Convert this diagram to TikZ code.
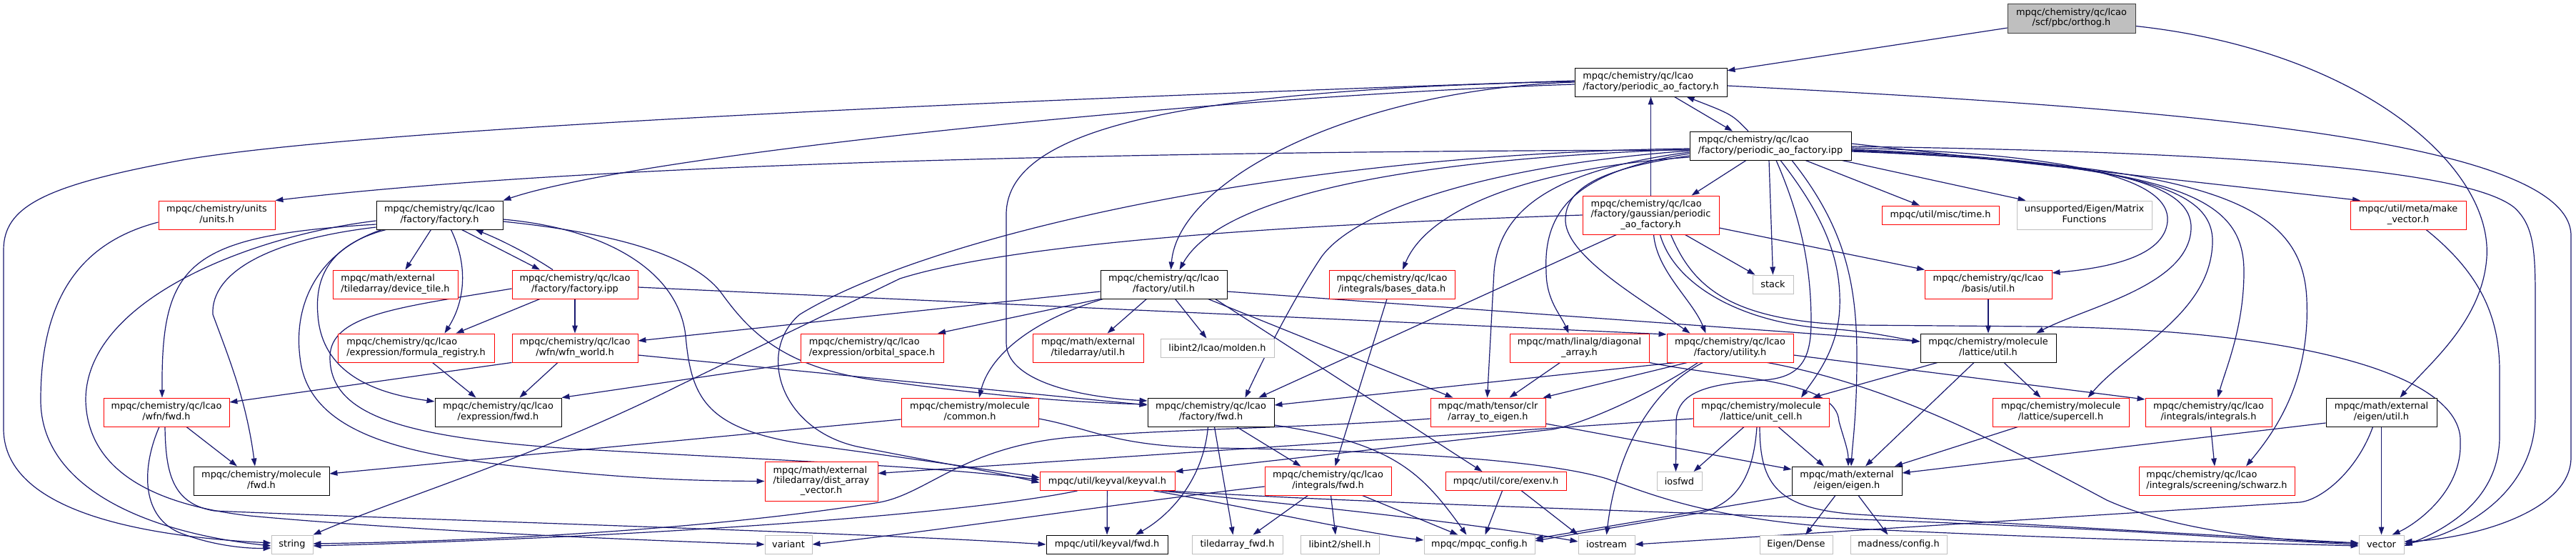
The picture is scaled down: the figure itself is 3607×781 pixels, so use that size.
\documentclass[tikz,border=0pt]{standalone}
\usepackage{fontspec}
\newfontfamily\dvs{DejaVu Sans}
\usetikzlibrary{arrows.meta}
\definecolor{edgeblue}{HTML}{191970}
\definecolor{grey75}{HTML}{BFBFBF}
\definecolor{grey25}{HTML}{404040}
\pgfdeclarelayer{background}
\pgfsetlayers{background,main}
\newcommand\twol[2]{\begin{tabular}{@{}l@{}}#1\\\multicolumn{1}{@{}c@{}}{#2}\end{tabular}}
\newcommand\threel[3]{\begin{tabular}{@{}l@{}}#1\\#2\\\multicolumn{1}{@{}c@{}}{#3}\end{tabular}}
\tikzset{
  nd/.style={draw, fill=white, line width=0.9pt, inner sep=0pt, text=black,
             font=\dvs\fontsize{12.9}{14.3}\selectfont},
  rn/.style={nd, draw=red},
  bn/.style={nd, draw=black},
  gn/.style={nd, draw=grey75},
  boxsz/.style 2 args={minimum width=#1pt, minimum height=#2pt},
  edg/.style={draw=edgeblue, line width=1.2pt, -{Triangle[length=11pt,width=7.5pt]}},
}
\begin{document}
\begin{tikzpicture}[x=1pt,y=-1pt]
\useasboundingbox (0,0) rectangle (3607,781);
% ---------- nodes ----------
\node[nd,fill=grey75,draw=grey25,boxsz={179}{41}] (orthog) at (2900.5,25.5) {\twol{mpqc/chemistry/qc/lcao}{/scf/pbc/orthog.h}};
\node[bn,boxsz={213}{40}] (pao_h) at (2311.5,115) {\twol{mpqc/chemistry/qc/lcao}{/factory/periodic\_ao\_factory.h}};
\node[bn,boxsz={226}{40}] (ipp) at (2479,204) {\twol{mpqc/chemistry/qc/lcao}{/factory/periodic\_ao\_factory.ipp}};
\node[rn,boxsz={163}{40}] (units) at (303.5,301) {\twol{mpqc/chemistry/units}{/units.h}};
\node[bn,boxsz={177}{40}] (factory_h) at (615.5,301) {\twol{mpqc/chemistry/qc/lcao}{/factory/factory.h}};
\node[rn,boxsz={191}{54}] (gauss) at (2311.5,301) {\threel{mpqc/chemistry/qc/lcao}{/factory/gaussian/periodic}{\_ao\_factory.h}};
\node[rn,boxsz={164}{26}] (time) at (2717,301) {mpqc/util/misc/time.h};
\node[gn,boxsz={189}{40}] (matfun) at (2918.5,301) {\twol{unsupported/Eigen/Matrix}{Functions}};
\node[rn,boxsz={162}{40}] (make_vector) at (3372,301) {\twol{mpqc/util/meta/make}{\_vector.h}};
\node[rn,boxsz={175}{40}] (device_tile) at (553.5,398) {\twol{mpqc/math/external}{/tiledarray/device\_tile.h}};
\node[rn,boxsz={176}{40}] (factory_ipp) at (805,398) {\twol{mpqc/chemistry/qc/lcao}{/factory/factory.ipp}};
\node[bn,boxsz={177}{40}] (factory_util) at (1629.5,398) {\twol{mpqc/chemistry/qc/lcao}{/factory/util.h}};
\node[rn,boxsz={176}{40}] (bases_data) at (1949,398) {\twol{mpqc/chemistry/qc/lcao}{/integrals/bases\_data.h}};
\node[gn,boxsz={57}{26}] (stack) at (2482.5,398) {stack};
\node[rn,boxsz={178}{40}] (basis_util) at (2784,398) {\twol{mpqc/chemistry/qc/lcao}{/basis/util.h}};
\node[rn,boxsz={219}{40}] (formula_reg) at (582.5,487) {\twol{mpqc/chemistry/qc/lcao}{/expression/formula\_registry.h}};
\node[rn,boxsz={176}{40}] (wfn_world) at (805,487) {\twol{mpqc/chemistry/qc/lcao}{/wfn/wfn\_world.h}};
\node[rn,boxsz={200}{40}] (orbital_space) at (1221,487) {\twol{mpqc/chemistry/qc/lcao}{/expression/orbital\_space.h}};
\node[rn,boxsz={155}{40}] (ta_util) at (1523.5,487) {\twol{mpqc/math/external}{/tiledarray/util.h}};
\node[gn,boxsz={159}{26}] (molden) at (1704.5,487) {libint2/lcao/molden.h};
\node[rn,boxsz={195}{40}] (diagonal) at (2211.5,487) {\twol{mpqc/math/linalg/diagonal}{\_array.h}};
\node[rn,boxsz={177}{40}] (utility) at (2422.5,487) {\twol{mpqc/chemistry/qc/lcao}{/factory/utility.h}};
\node[bn,boxsz={190}{40}] (lattice_util) at (2784,487) {\twol{mpqc/chemistry/molecule}{/lattice/util.h}};
\node[rn,boxsz={176}{40}] (wfn_fwd) at (233,577) {\twol{mpqc/chemistry/qc/lcao}{/wfn/fwd.h}};
\node[bn,boxsz={177}{40}] (expr_fwd) at (697.5,577) {\twol{mpqc/chemistry/qc/lcao}{/expression/fwd.h}};
\node[rn,boxsz={192}{40}] (mol_common) at (1358,577) {\twol{mpqc/chemistry/molecule}{/common.h}};
\node[bn,boxsz={177}{40}] (factory_fwd) at (1695.5,577) {\twol{mpqc/chemistry/qc/lcao}{/factory/fwd.h}};
\node[rn,boxsz={161}{40}] (array_to_eigen) at (2083.5,577) {\twol{mpqc/math/tensor/clr}{/array\_to\_eigen.h}};
\node[rn,boxsz={190}{40}] (unit_cell) at (2466,577) {\twol{mpqc/chemistry/molecule}{/lattice/unit\_cell.h}};
\node[rn,boxsz={191}{40}] (supercell) at (2885.5,577) {\twol{mpqc/chemistry/molecule}{/lattice/supercell.h}};
\node[rn,boxsz={177}{40}] (integrals) at (3092.5,577) {\twol{mpqc/chemistry/qc/lcao}{/integrals/integrals.h}};
\node[bn,boxsz={155}{40}] (eigen_util) at (3334.5,577) {\twol{mpqc/math/external}{/eigen/util.h}};
\node[bn,boxsz={190}{40}] (mol_fwd) at (366,673) {\twol{mpqc/chemistry/molecule}{/fwd.h}};
\node[rn,boxsz={158}{55}] (dist_array) at (1150,673.5) {\threel{mpqc/math/external}{/tiledarray/dist\_array}{\_vector.h}};
\node[rn,boxsz={189}{26}] (keyval) at (1550.5,673.5) {mpqc/util/keyval/keyval.h};
\node[rn,boxsz={177}{40}] (integrals_fwd) at (1859.5,673) {\twol{mpqc/chemistry/qc/lcao}{/integrals/fwd.h}};
\node[rn,boxsz={169}{26}] (exenv) at (2108.5,673.5) {mpqc/util/core/exenv.h};
\node[gn,boxsz={63}{26}] (iosfwd) at (2351.5,673.5) {iosfwd};
\node[bn,boxsz={154}{40}] (eigen_h) at (2586,673) {\twol{mpqc/math/external}{/eigen/eigen.h}};
\node[rn,boxsz={218}{40}] (schwarz) at (3104,673) {\twol{mpqc/chemistry/qc/lcao}{/integrals/screening/schwarz.h}};
\node[gn,boxsz={58}{26}] (string) at (409,762) {string};
\node[gn,boxsz={66}{26}] (variant) at (1104,762) {variant};
\node[bn,boxsz={170}{26}] (keyval_fwd) at (1550,762) {mpqc/util/keyval/fwd.h};
\node[gn,boxsz={127}{26}] (ta_fwd) at (1732.5,762) {tiledarray\_fwd.h};
\node[gn,boxsz={110}{26}] (shell) at (1876,762) {libint2/shell.h};
\node[gn,boxsz={155}{26}] (mpqc_config) at (2071.5,762) {mpqc/mpqc\_config.h};
\node[gn,boxsz={79}{26}] (iostream) at (2249.5,762) {iostream};
\node[gn,boxsz={102}{26}] (dense) at (2515,762) {Eigen/Dense};
\node[gn,boxsz={135}{26}] (madness) at (2658.5,762) {madness/config.h};
\node[gn,boxsz={63}{26}] (vector) at (3334.5,762) {vector};
% ---------- edges ----------
\begin{pgfonlayer}{background}
\fill[white] (0,0) rectangle (3607,781);
% orthog
\draw[edg] (orthog) -- (pao_h);
\draw[edg] ([yshift=-11pt]orthog.east) .. controls (3300,70) and (3490,230) .. (3482,360) .. controls (3476,450) and (3400,510) .. ([xshift=26pt]eigen_util.north);
% periodic_ao_factory.h
\draw[edg] ([xshift=33pt]pao_h.south) -- ([xshift=-53pt]ipp.north);
\draw[edg] ([xshift=-31pt]ipp.north) .. controls (2425,160) .. ([xshift=50pt]pao_h.south);
\draw[edg] (gauss) -- (pao_h);
\draw[edg] ([yshift=-3pt]pao_h.west) .. controls (1700,135) and (900,215) .. (factory_h.north east);
\draw[edg] ([yshift=2pt]pao_h.west) .. controls (1400,140) and (500,180) .. (250,225) .. controls (60,260) and (5,290) .. (5,350) -- (5,600) .. controls (5,700) and (150,748) .. ([yshift=2pt]string.west);
\draw[edg] (pao_h.west) .. controls (1900,125) and (1650,250) .. ([xshift=10pt]factory_util.north);
\draw[edg] ([yshift=1pt]pao_h.west) .. controls (1700,125) and (1409,170) .. (1409,300) -- (1409,480) .. controls (1409,530) and (1500,555) .. ([yshift=16pt]factory_fwd.west);
\draw[edg] ([yshift=-5pt]pao_h.east) .. controls (3000,150) and (3600,190) .. (3600,330) -- (3600,640) .. controls (3600,720) and (3450,755) .. ([yshift=4pt]vector.east);
% periodic_ao_factory.ipp
\draw[edg] ([yshift=-6pt]ipp.west) .. controls (1500,212) and (800,232) .. (units.north east);
\draw[edg] ([yshift=-5pt]ipp.west) .. controls (1900,225) and (1700,290) .. ([xshift=22pt]factory_util.north);
\draw[edg] ([yshift=-4pt]ipp.west) .. controls (1800,215) and (1300,330) .. (1120,440) .. controls (1060,490) and (1090,600) .. (1200,625) .. controls (1300,645) and (1400,662) .. ([yshift=-2pt]keyval.west);
\draw[edg] ([yshift=-7pt]ipp.west) .. controls (2100,230) and (1900,290) .. (1850,360) .. controls (1810,420) and (1770,500) .. ([xshift=48pt]factory_fwd.north);
\draw[edg] ([yshift=-9pt]ipp.west) .. controls (2200,235) and (2100,280) .. (2092,380) -- ([xshift=-1pt]array_to_eigen.north);
\draw[edg] ([yshift=-11pt]ipp.west) .. controls (2220,238) and (2160,285) .. (2165,380) .. controls (2165,420) and (2185,440) .. ([xshift=-15pt]diagonal.north);
\draw[edg] ([yshift=-14pt]ipp.west) .. controls (2250,235) and (2190,260) .. (2192,310) .. controls (2195,360) and (2300,420) .. ([xshift=-56pt]utility.north);
\draw[edg] ([yshift=-16pt]ipp.west) .. controls (2150,235) and (2000,290) .. ([xshift=15pt]bases_data.north);
\draw[edg] ([xshift=-34pt]ipp.south) -- ([xshift=57pt]gauss.north);
\draw[edg] ([xshift=-2pt]ipp.south) -- (stack.north);
\draw[edg] ([xshift=49pt]ipp.south) -- ([xshift=-29pt]time.north);
\draw[edg] ([xshift=100pt]ipp.south) -- ([xshift=-82pt]matfun.north);
\draw[edg] ([yshift=3pt]ipp.east) -- ([xshift=-67pt]make_vector.north);
\draw[edg] ([yshift=-1pt]ipp.east) .. controls (3100,212) and (3450,235) .. (3520,290) .. controls (3548,315) and (3550,350) .. (3550,420) -- (3550,580) .. controls (3550,700) and (3430,752) .. ([yshift=1pt]vector.east);
\draw[edg] ([yshift=-3pt]ipp.east) .. controls (2900,215) and (3040,250) .. (3035,310) .. controls (3030,360) and (2950,375) .. ([yshift=16pt]basis_util.east);
\draw[edg] ([yshift=-5pt]ipp.east) .. controls (2950,225) and (3070,255) .. (3068,320) .. controls (3065,400) and (2920,430) .. ([xshift=67pt]lattice_util.north);
\draw[edg] ([yshift=-6pt]ipp.east) .. controls (3000,230) and (3100,265) .. (3098,340) .. controls (3095,440) and (2980,490) .. ([xshift=38pt]supercell.north);
\draw[edg] ([yshift=-7pt]ipp.east) .. controls (3050,232) and (3142,275) .. (3142,380) .. controls (3142,460) and (3115,520) .. ([xshift=13pt]integrals.north);
\draw[edg] ([yshift=-8pt]ipp.east) .. controls (3100,232) and (3225,285) .. (3230,420) .. controls (3235,540) and (3180,610) .. ([xshift=41pt]schwarz.north);
\draw[edg] ([xshift=8pt]ipp.south) .. controls (2520,300) and (2536,370) .. (2536,450) .. controls (2536,505) and (2520,528) .. (2470,532) .. controls (2400,537) and (2348,545) .. (2347,590) -- ([xshift=-5pt]iosfwd.north);
\draw[edg] ([xshift=14pt]ipp.south) .. controls (2560,310) and (2578,370) .. (2576,430) .. controls (2574,490) and (2540,530) .. ([xshift=56pt]unit_cell.north);
\draw[edg] ([xshift=30pt]ipp.south) .. controls (2585,320) and (2600,400) .. (2600,500) .. controls (2600,580) and (2594,620) .. ([xshift=6pt]eigen_h.north);
% gaussian/periodic_ao_factory.h
\draw[edg] ([xshift=-48pt]gauss.south) -- ([xshift=67pt]factory_fwd.north);
\draw[edg] ([xshift=4pt]gauss.south) .. controls (2320,380) and (2370,420) .. ([xshift=-34pt]utility.north);
\draw[edg] ([xshift=13pt]gauss.south) .. controls (2345,400) and (2440,452) .. (2560,460) .. controls (2620,464) and (2660,474) .. ([yshift=9pt]lattice_util.west);
\draw[edg] ([xshift=28pt]gauss.south) .. controls (2370,400) and (2420,450) .. (2600,455) -- (2850,457) .. controls (3200,460) and (3450,520) .. (3445,620) .. controls (3447,690) and (3380,735) .. ([xshift=15pt]vector.north);
\draw[edg] ([xshift=48pt]gauss.south) -- ([xshift=-25pt]stack.north);
\draw[edg] ([yshift=-18pt]gauss.east) -- ([xshift=-89pt]basis_util.north);
\draw[edg] (gauss.west) .. controls (1950,310) and (1450,330) .. (1260,390) -- (950,540) .. controls (750,640) and (550,700) .. (string.north east);
% factory/util.h
\draw[edg] ([yshift=-10pt]factory_util.west) -- ([yshift=10pt]wfn_world.east);
\draw[edg] (factory_util.south west) -- ([xshift=92pt]orbital_space.north);
\draw[edg] ([xshift=-24pt]factory_util.south) -- ([xshift=27pt]ta_util.north);
\draw[edg] ([xshift=16pt]factory_util.south) -- ([xshift=-15pt]molden.north);
\draw[edg] ([xshift=4pt]factory_util.south west) .. controls (1440,450) and (1385,500) .. ([xshift=13pt]mol_common.north);
\draw[edg] ([yshift=-10pt]factory_util.east) -- ([yshift=9pt]lattice_util.west);
\draw[edg] ([xshift=62pt]factory_util.south) -- ([xshift=-49pt]array_to_eigen.north);
\draw[edg] ([xshift=72pt]factory_util.south) -- ([xshift=-33pt]exenv.north);
% factory.h / factory.ipp
\draw[edg] ([xshift=31pt]factory_h.south) -- ([xshift=-49pt]factory_ipp.north);
\draw[edg] ([xshift=-31pt]factory_ipp.north) .. controls (740,355) and (700,335) .. ([xshift=50pt]factory_h.south);
\draw[edg] ([xshift=-49pt]factory_ipp.south) -- ([xshift=56pt]formula_reg.north);
\draw[edg] (factory_ipp) -- (wfn_world);
\draw[edg] ([yshift=-4pt]factory_ipp.east) -- ([yshift=19pt]utility.west);
\draw[edg] ([yshift=-6pt]factory_ipp.west) .. controls (560,430) and (462,440) .. (462,500) .. controls (462,580) and (560,612) .. (800,628) .. controls (1100,645) and (1300,652) .. ([yshift=2pt]keyval.west);
\draw[edg] ([xshift=-12pt]factory_h.south) -- ([xshift=14pt]device_tile.north);
\draw[edg] ([xshift=16pt]factory_h.south) .. controls (655,370) and (652,420) .. ([xshift=40pt]formula_reg.north);
\draw[edg] ([yshift=-13pt]factory_h.west) .. controls (260,330) and (226,370) .. ([xshift=-6pt]wfn_fwd.north);
\draw[edg] ([yshift=-17pt]factory_h.west) .. controls (380,335) and (295,380) .. (298,440) .. controls (320,500) and (345,560) .. ([xshift=-9pt]mol_fwd.north);
\draw[edg] ([yshift=-8pt]factory_h.west) .. controls (350,330) and (120,420) .. (120,560) .. controls (122,650) and (200,705) .. (350,722) .. controls (600,745) and (950,758) .. (variant.west);
\draw[edg] ([xshift=8pt]factory_h.south west) .. controls (450,350) and (410,420) .. (420,500) .. controls (430,600) and (550,632) .. (700,650) .. controls (850,668) and (950,673) .. (dist_array.west);
\draw[edg] ([xshift=14pt]factory_h.south west) .. controls (470,340) and (440,380) .. (445,440) .. controls (450,520) and (520,550) .. ([yshift=15pt]expr_fwd.west);
\draw[edg] ([yshift=-6pt]factory_h.east) .. controls (850,320) and (950,380) .. (960,470) .. controls (968,560) and (990,602) .. (1136,623) .. controls (1300,645) and (1400,660) .. ([yshift=5pt]keyval.west);
\draw[edg] ([yshift=-9pt]factory_h.east) .. controls (900,330) and (980,370) .. (1010,410) .. controls (1050,465) and (1100,520) .. (1250,535) .. controls (1400,555) and (1500,563) .. ([yshift=11pt]factory_fwd.west);
% wfn_world, formula_registry, orbital_space, units
\draw[edg] (wfn_world.south west) -- ([yshift=14pt]wfn_fwd.east);
\draw[edg] ([xshift=-24pt]wfn_world.south) -- ([xshift=30pt]expr_fwd.north);
\draw[edg] ([yshift=-10pt]wfn_world.east) -- ([yshift=10pt]factory_fwd.west);
\draw[edg] ([xshift=23pt]formula_reg.south) -- ([xshift=-31pt]expr_fwd.north);
\draw[edg] (orbital_space.south west) -- (expr_fwd.north east);
\draw[edg] ([yshift=-10pt]units.west) .. controls (110,340) and (57,420) .. (57,560) .. controls (57,680) and (200,745) .. ([yshift=-2pt]string.west);
% wfn/fwd.h
\draw[edg] ([xshift=28pt]wfn_fwd.south) -- ([xshift=-34pt]mol_fwd.north);
\draw[edg] ([xshift=-10pt]wfn_fwd.south) .. controls (200,650) and (195,720) .. (250,745) .. controls (300,765) and (350,768) .. ([yshift=-5pt]string.west);
\draw[edg] ([xshift=-2pt]wfn_fwd.south) .. controls (232,660) and (240,705) .. (300,715) .. controls (600,728) and (1200,745) .. (keyval_fwd.west);
% molecule/common.h
\draw[edg] ([yshift=-10pt]mol_common.west) -- ([yshift=10pt]mol_fwd.east);
\draw[edg] ([yshift=-9pt]mol_common.east) .. controls (1530,600) and (1560,625) .. (1700,627) .. controls (1900,630) and (2150,640) .. (2250,670) .. controls (2320,695) and (2400,728) .. (2600,740) .. controls (2900,755) and (3150,760) .. ([yshift=-2pt]vector.west);
% keyval.h
\draw[edg] (keyval) -- (keyval_fwd);
\draw[edg] ([xshift=-42pt]keyval.south) .. controls (1350,720) and (900,752) .. ([yshift=-2pt]string.east);
\draw[edg] ([xshift=-30pt]keyval.south east) .. controls (1750,710) and (1900,745) .. ([yshift=6pt]mpqc_config.west);
\draw[edg] ([xshift=-20pt]keyval.south east) .. controls (1800,705) and (2050,730) .. ([yshift=4pt]iostream.west);
\draw[edg] ([xshift=-10pt]keyval.south east) .. controls (2000,710) and (2600,722) .. (3000,745) .. controls (3150,754) and (3250,760) .. (vector.west);
% integrals/fwd.h
\draw[edg] ([xshift=-28pt]integrals_fwd.south) -- ([xshift=22pt]ta_fwd.north);
\draw[edg] ([xshift=4pt]integrals_fwd.south) -- ([xshift=-6pt]shell.north);
\draw[edg] ([xshift=48pt]integrals_fwd.south) -- ([xshift=-30pt]mpqc_config.north);
\draw[edg] ([yshift=-8pt]integrals_fwd.west) .. controls (1600,700) and (1300,745) .. (variant.east);
% factory/fwd.h
\draw[edg] ([xshift=-4pt]factory_fwd.south) .. controls (1685,670) and (1640,720) .. ([xshift=40pt]keyval_fwd.north);
\draw[edg] ([xshift=5pt]factory_fwd.south) -- ([xshift=-6pt]ta_fwd.north);
\draw[edg] ([xshift=36pt]factory_fwd.south) -- ([xshift=-38pt]integrals_fwd.north);
\draw[edg] ([yshift=-18pt]factory_fwd.east) .. controls (1950,620) and (1990,660) .. ([xshift=-18pt]mpqc_config.north);
% bases_data, exenv, eigen.h
\draw[edg] ([xshift=-7pt]bases_data.south) -- ([xshift=10pt]integrals_fwd.north);
\draw[edg] ([xshift=-5pt]exenv.south) -- ([xshift=8pt]mpqc_config.north);
\draw[edg] ([xshift=22pt]exenv.south) -- (iostream.north west);
\draw[edg] ([xshift=-16pt]eigen_h.south) -- ([xshift=13pt]dense.north);
\draw[edg] ([xshift=16pt]eigen_h.south) -- ([xshift=-15pt]madness.north);
\draw[edg] (eigen_h.south west) -- ([yshift=8pt]mpqc_config.east);
% unit_cell.h
\draw[edg] ([xshift=-24pt]unit_cell.south) -- ([xshift=20pt]iosfwd.north);
\draw[edg] ([xshift=24pt]unit_cell.south) -- ([xshift=-32pt]eigen_h.north);
\draw[edg] ([xshift=-6pt]unit_cell.south) .. controls (2455,670) and (2430,705) .. (2380,718) -- ([yshift=5pt]mpqc_config.east);
\draw[edg] ([xshift=-2pt]unit_cell.south) .. controls (2464,680) and (2490,712) .. (2600,720) .. controls (2900,738) and (3150,752) .. ([yshift=2pt]vector.west);
\draw[edg] ([yshift=-9pt]unit_cell.west) -- ([yshift=11pt]dist_array.east);
% array_to_eigen.h, diagonal_array.h
\draw[edg] ([yshift=-16pt]array_to_eigen.east) -- ([yshift=16pt]eigen_h.west);
\draw[edg] ([yshift=-9pt]array_to_eigen.west) .. controls (1850,598) and (1650,600) .. (1500,612) .. controls (1350,625) and (1300,690) .. (1232,703) .. controls (1000,740) and (700,757) .. ([yshift=1pt]string.east);
\draw[edg] ([xshift=-27pt]diagonal.south) -- ([xshift=30pt]array_to_eigen.north);
\draw[edg] (diagonal.south east) .. controls (2420,530) and (2572,530) .. (2575,590) .. controls (2582,615) and (2588,630) .. ([xshift=2pt]eigen_h.north);
% factory/utility.h
\draw[edg] ([xshift=-76pt]utility.south) -- ([yshift=10pt]factory_fwd.east);
\draw[edg] ([xshift=-60pt]utility.south) -- ([xshift=77pt]array_to_eigen.north);
\draw[edg] ([xshift=-45pt]utility.south) .. controls (2330,540) and (2230,590) .. (2174,601) -- (keyval.north east);
\draw[edg] ([xshift=-38pt]utility.south) .. controls (2320,540) and (2265,620) .. (iostream.north);
\draw[edg] ([yshift=-10pt]utility.east) -- ([yshift=18pt]integrals.west);
\draw[edg] ([xshift=52pt]utility.south) .. controls (2650,540) and (2800,620) .. (2950,700) .. controls (3050,745) and (3200,758) .. ([yshift=2pt]vector.west);
% lattice/util.h, basis/util.h, supercell.h
\draw[edg] ([xshift=-71pt]lattice_util.south) -- ([xshift=72pt]unit_cell.north);
\draw[edg] ([xshift=-20pt]lattice_util.south) -- ([xshift=26pt]eigen_h.north);
\draw[edg] ([xshift=22pt]lattice_util.south) -- ([xshift=-28pt]supercell.north);
\draw[edg] (basis_util) -- (lattice_util);
\draw[edg] ([xshift=-60pt]supercell.south) -- ([xshift=67pt]eigen_h.north);
% eigen/util.h, integrals.h, make_vector.h
\draw[edg] ([yshift=-15pt]eigen_util.west) -- ([yshift=11pt]eigen_h.east);
\draw[edg] (eigen_util) -- (vector);
\draw[edg] ([xshift=-12pt]eigen_util.south) .. controls (3300,660) and (3250,700) .. (3220,703) -- (iostream.east);
\draw[edg] ([xshift=3pt]integrals.south) -- ([xshift=-3pt]schwarz.north);
\draw[edg] ([xshift=25pt]make_vector.south) .. controls (3470,380) and (3500,440) .. (3500,520) -- (3500,610) .. controls (3500,690) and (3440,735) .. ([yshift=-2pt]vector.east);
\end{pgfonlayer}
\end{tikzpicture}
\end{document}
